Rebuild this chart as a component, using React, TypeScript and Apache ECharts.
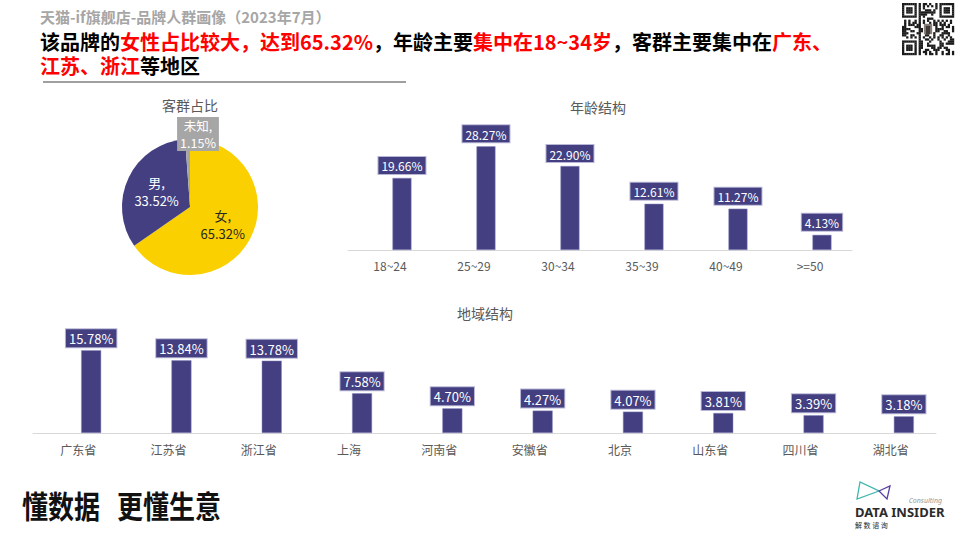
import React, { useEffect, useRef } from 'react';
import * as echarts from 'echarts';

const pieNames = ['女', '男', '未知'];
const pieValues = [65.32, 33.52, 1.15];

const ageCategories = ['18~24', '25~29', '30~34', '35~39', '40~49', '>=50'];
const ageValues = [19.66, 28.27, 22.9, 12.61, 11.27, 4.13];

const regionCategories = ['广东省', '江苏省', '浙江省', '上海', '河南省', '安徽省', '北京', '山东省', '四川省', '湖北省'];
const regionValues = [15.78, 13.84, 13.78, 7.58, 4.7, 4.27, 4.07, 3.81, 3.39, 3.18];

const NAVY = '#433f81';
const YELLOW = '#fad000';
const GRAY = '#a6a6a6';
const FONT = '"Noto Sans CJK SC", "Noto Sans", sans-serif';

function qrElements(): any[] {
  const n = 25;
  const x0 = 902;
  const y0 = 3;
  const s = 52 / n;
  const els: any[] = [];
  const finderAt = (r: number, c: number): [number, number] | null => {
    if (r < 7 && c < 7) return [r, c];
    if (r < 7 && c >= n - 7) return [r, c - (n - 7)];
    if (r >= n - 7 && c < 7) return [r - (n - 7), c];
    return null;
  };
  const sep = (r: number, c: number) =>
    (r < 8 && c < 8) || (r < 8 && c >= n - 8) || (r >= n - 8 && c < 8);
  for (let r = 0; r < n; r++) {
    for (let c = 0; c < n; c++) {
      let dark = false;
      const f = finderAt(r, c);
      if (f) {
        const [i, j] = f;
        dark = i === 0 || i === 6 || j === 0 || j === 6 || (i >= 2 && i <= 4 && j >= 2 && j <= 4);
      } else if (sep(r, c)) {
        dark = false;
      } else if (r >= 10 && r <= 14 && c >= 10 && c <= 14) {
        dark = false;
      } else {
        const h = (r * 131 + c * 71 + r * c * 37 + ((r ^ c) * 13)) % 11;
        dark = h < 5;
      }
      if (dark) {
        els.push({
          type: 'rect',
          shape: { x: x0 + c * s, y: y0 + r * s, width: s + 0.2, height: s + 0.2 },
          style: { fill: '#1a1a1a' },
          silent: true,
        });
      }
    }
  }
  els.push({
    type: 'rect',
    shape: { x: x0 + 10.5 * s, y: y0 + 10 * s, width: 4 * s, height: 5 * s },
    style: { fill: '#8a7f78' },
    silent: true,
  });
  els.push({
    type: 'rect',
    shape: { x: x0 + 11.5 * s, y: y0 + 11 * s, width: 2 * s, height: 4 * s },
    style: { fill: '#3d3a3a' },
    silent: true,
  });
  return els;
}

const pctLabel = (p: any) => Number(p.value).toFixed(2) + '%';

export default function App() {
  const ref = useRef<HTMLDivElement>(null);

  useEffect(() => {
    if (!ref.current) return;
    const chart = echarts.init(ref.current, undefined, { renderer: 'svg' });

    const barLabel = (fontSize: number, distance: number) => ({
      show: true,
      position: 'top',
      distance,
      formatter: pctLabel,
      color: '#ffffff',
      fontSize,
      fontFamily: FONT,
      backgroundColor: NAVY,
      borderColor: '#b9b7d6',
      borderWidth: 1,
      padding: [3, 3, 2, 3],
    });

    const richTitle = {
      k: { fill: '#000000', fontSize: 20, lineHeight: 24, fontWeight: 'bold', fontFamily: FONT },
      r: { fill: '#ff0000', fontSize: 20, lineHeight: 24, fontWeight: 'bold', fontFamily: FONT },
    };

    const option: any = {
      animation: false,
      backgroundColor: '#ffffff',
      textStyle: { fontFamily: FONT },
      grid: [
        { left: 348, width: 504, top: 140, height: 110 },
        { left: 33, width: 903, top: 349, height: 84 },
      ],
      xAxis: [
        {
          gridIndex: 0,
          type: 'category',
          data: ageCategories,
          axisLine: { lineStyle: { color: '#d9d9d9', width: 1 } },
          axisTick: { show: false },
          axisLabel: { color: '#595959', fontSize: 12, margin: 9, fontFamily: FONT },
        },
        {
          gridIndex: 1,
          type: 'category',
          data: regionCategories,
          axisLine: { lineStyle: { color: '#d9d9d9', width: 1 } },
          axisTick: { show: false },
          axisLabel: { color: '#595959', fontSize: 12, margin: 10, fontFamily: FONT },
        },
      ],
      yAxis: [
        { gridIndex: 0, type: 'value', min: 0, max: 30, show: false },
        { gridIndex: 1, type: 'value', min: 0, max: 16, show: false },
      ],
      series: [
        {
          type: 'pie',
          center: [190, 207],
          radius: 68,
          startAngle: 90,
          clockwise: true,
          silent: true,
          labelLayout: (params: any) =>
            params.dataIndex === 2
              ? { x: 198, y: 134, align: 'center', verticalAlign: 'middle' }
              : undefined,
          data: pieNames.map((name, i) => ({
            name,
            value: pieValues[i],
            itemStyle: { color: [YELLOW, NAVY, GRAY][i] },
            label:
              i === 2
                ? {
                    show: true,
                    position: 'outside',
                    color: '#ffffff',
                    backgroundColor: GRAY,
                    padding: [0, 3, 0, 3],
                    lineHeight: 17,
                    fontSize: 12.5,
                  }
                : {
                    show: true,
                    position: 'inside',
                    color: i === 0 ? '#262626' : '#ffffff',
                    fontSize: 13,
                    lineHeight: 18,
                  },
            labelLine: { show: false },
          })),
          label: {
            fontFamily: FONT,
            formatter: (p: any) => p.name + ',\n' + Number(p.value).toFixed(2) + '%',
          },
        },
        {
          type: 'bar',
          xAxisIndex: 0,
          yAxisIndex: 0,
          data: [],
          barWidth: 19,
          barGap: '26%',
          silent: true,
        },
        {
          type: 'bar',
          xAxisIndex: 0,
          yAxisIndex: 0,
          data: ageValues,
          barWidth: 19,
          barGap: '26%',
          silent: true,
          itemStyle: { color: NAVY, borderColor: '#8f8cc0', borderWidth: 0.5 },
          label: barLabel(12, 4),
        },
        {
          type: 'bar',
          xAxisIndex: 1,
          yAxisIndex: 1,
          data: [],
          barWidth: 20,
          barGap: '30%',
          silent: true,
        },
        {
          type: 'bar',
          xAxisIndex: 1,
          yAxisIndex: 1,
          data: regionValues,
          barWidth: 20,
          barGap: '30%',
          silent: true,
          itemStyle: { color: NAVY, borderColor: '#8f8cc0', borderWidth: 0.5 },
          label: barLabel(13, 3),
        },
      ],
      graphic: [
        {
          type: 'text',
          x: 40,
          y: 16,
          style: {
            text: '天猫-if旗舰店-品牌人群画像（2023年7月）',
            fill: '#a6a6a6',
            font: `bold 15px ${FONT}`,
            verticalAlign: 'middle',
          },
        },
        {
          type: 'text',
          x: 40,
          y: 29,
          style: {
            text:
              '{k|该品牌的}{r|女性占比较大，达到65.32%}{k|，年龄主要}{r|集中在18~34岁}{k|，客群主要集中在}{r|广东、}\n{r|江苏、浙江}{k|等地区}',
            verticalAlign: 'top',
            rich: richTitle,
          },
        },
        {
          type: 'line',
          shape: { x1: 43, y1: 82, x2: 406, y2: 82 },
          style: { stroke: '#7f7f7f', lineWidth: 1.5 },
        },
        {
          type: 'text',
          x: 190,
          y: 105,
          style: { text: '客群占比', fill: '#595959', font: `14px ${FONT}`, align: 'center', verticalAlign: 'middle' },
        },
        {
          type: 'text',
          x: 598,
          y: 107,
          style: { text: '年龄结构', fill: '#595959', font: `14px ${FONT}`, align: 'center', verticalAlign: 'middle' },
        },
        {
          type: 'text',
          x: 485,
          y: 313,
          style: { text: '地域结构', fill: '#595959', font: `14px ${FONT}`, align: 'center', verticalAlign: 'middle' },
        },
        {
          type: 'text',
          x: 22,
          y: 504,
          scaleY: 1.2,
          style: { text: '懂数据', fill: '#111111', font: `bold 26px ${FONT}`, verticalAlign: 'middle' },
        },
        {
          type: 'text',
          x: 117,
          y: 504,
          scaleY: 1.2,
          style: { text: '更懂生意', fill: '#111111', font: `bold 26px ${FONT}`, verticalAlign: 'middle' },
        },
        {
          type: 'polygon',
          shape: { points: [[860, 482], [857, 499], [879, 491]] },
          style: { fill: 'none', stroke: '#3fb5ad', lineWidth: 1.3 },
        },
        {
          type: 'polygon',
          shape: { points: [[879, 491], [890, 486], [887, 499]] },
          style: { fill: 'none', stroke: '#5a3fa3', lineWidth: 1.3 },
        },
        {
          type: 'text',
          x: 942,
          y: 500,
          style: { text: 'Consulting', fill: '#999999', font: `italic 7px "Noto Sans", sans-serif`, align: 'right', verticalAlign: 'middle' },
        },
        {
          type: 'text',
          x: 855,
          y: 512,
          style: { text: 'DATA INSIDER', fill: '#2b2b2b', font: `bold 13px "Noto Sans", sans-serif`, verticalAlign: 'middle' },
        },
        {
          type: 'text',
          x: 855,
          y: 525,
          style: { text: '解 数 谘 询', fill: '#2b2b2b', font: `7px ${FONT}`, verticalAlign: 'middle' },
        },
        ...qrElements(),
      ],
    };

    chart.setOption(option);
    return () => {
      chart.dispose();
    };
  }, []);

  return (
    <div
      ref={ref}
      style={{ position: 'fixed', left: 0, top: 0, width: 960, height: 540, background: '#fff' }}
    />
  );
}
